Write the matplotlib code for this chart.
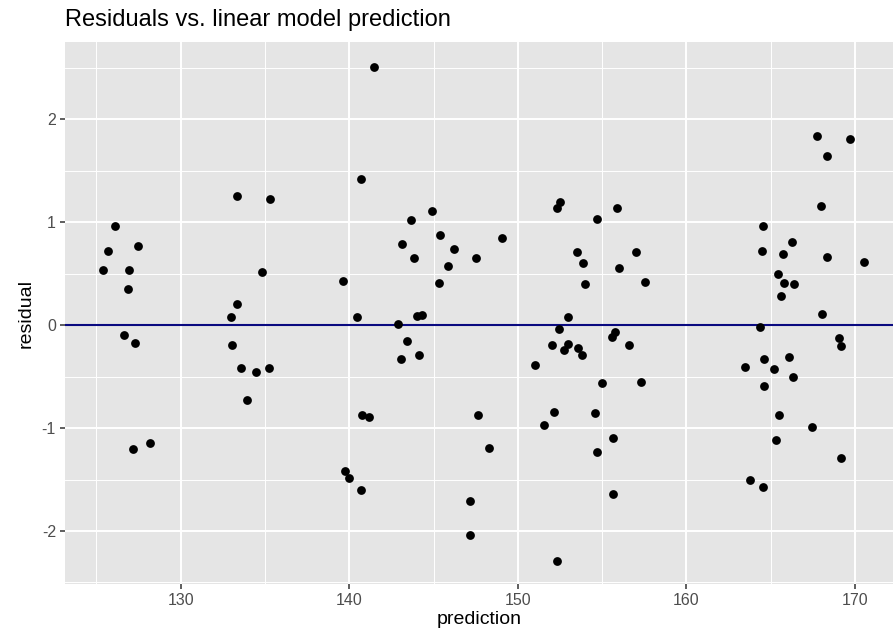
import matplotlib.pyplot as plt
from matplotlib.ticker import MultipleLocator

plt.rcParams['font.family'] = ['Liberation Sans', 'DejaVu Sans']
plt.rcParams['axes.unicode_minus'] = False

# values
prediction = [
    133.32, 135.30, 126.12, 125.67, 127.45, 125.37, 126.93, 134.84, 126.89, 133.32,
    133.00, 126.64, 127.27, 133.06, 133.60, 134.47, 135.24, 133.93, 127.15, 128.16,
    141.47, 140.68, 144.89, 143.68, 145.40, 143.13, 146.23, 143.86, 147.50, 145.85,
    149.07, 139.61, 145.30, 140.46, 144.02, 144.31, 142.91, 143.42, 143.05, 144.12,
    140.77, 141.15, 147.63, 148.29, 139.76, 139.96, 140.69, 147.14, 147.16, 152.30,
    152.50, 152.34, 155.88, 154.67, 153.50, 153.84, 157.02, 156.00, 153.96, 157.56,
    152.99, 152.44, 155.78, 155.56, 167.76, 169.72, 168.32, 167.96, 164.52, 164.46,
    166.26, 165.74, 168.35, 170.55, 165.41, 165.77, 166.36, 165.63, 168.02, 164.36,
    169.03, 152.00, 152.97, 152.73, 153.58, 153.78, 156.61, 155.00, 157.30, 152.12,
    151.53, 154.59, 155.66, 154.69, 155.66, 151.03, 169.16, 163.45, 164.62, 166.08,
    165.19, 166.33, 164.62, 165.51, 167.42, 165.33, 169.16, 163.79, 164.56,
]
residual = [
    1.255, 1.227, 0.962, 0.715, 0.767, 0.537, 0.531, 0.515, 0.350, 0.207,
    0.081, -0.097, -0.178, -0.194, -0.420, -0.460, -0.420, -0.725, -1.204, -1.142,
    2.512, 1.417, 1.110, 1.022, 0.877, 0.783, 0.744, 0.650, 0.647, 0.570,
    0.845, 0.430, 0.408, 0.075, 0.084, 0.097, 0.013, -0.152, -0.333, -0.291,
    -0.877, -0.890, -0.877, -1.191, -1.414, -1.489, -1.605, -1.712, -2.039, -2.290,
    1.197, 1.139, 1.136, 1.032, 0.709, 0.608, 0.709, 0.550, 0.395, 0.414,
    0.075, -0.039, -0.065, -0.120, 1.838, 1.803, 1.638, 1.159, 0.958, 0.722,
    0.803, 0.686, 0.663, 0.615, 0.492, 0.405, 0.395, 0.278, 0.107, -0.022,
    -0.123, -0.191, -0.184, -0.239, -0.220, -0.294, -0.191, -0.560, -0.550, -0.841,
    -0.968, -0.851, -1.097, -1.230, -1.644, -0.392, -0.204, -0.408, -0.327, -0.314,
    -0.427, -0.508, -0.589, -0.874, -0.987, -1.117, -1.291, -1.505, -1.570,
]

fig = plt.figure(figsize=(8.93, 6.37), dpi=100)
ax = fig.add_axes([65 / 893, 1 - 584 / 637, 828 / 893, 542 / 637])

# ggplot grey theme
ax.set_facecolor('#E5E5E5')
for s in ax.spines.values():
    s.set_visible(False)
ax.xaxis.set_major_locator(MultipleLocator(10))
ax.xaxis.set_minor_locator(MultipleLocator(5))
ax.yaxis.set_major_locator(MultipleLocator(1))
ax.yaxis.set_minor_locator(MultipleLocator(0.5))
ax.grid(which='major', color='white', linewidth=1.4)
ax.grid(which='minor', color='white', linewidth=0.7)
ax.set_axisbelow(True)
ax.tick_params(which='major', length=3.5, width=1.1, color='#333333',
               labelcolor='#4D4D4D', labelsize=11.5, pad=3)
ax.tick_params(which='minor', length=0)

ax.scatter(prediction, residual, s=40, color='black', linewidths=0, zorder=3)
ax.axhline(0, color='#0A0A80', linewidth=1.5, zorder=2)

ax.set_xlim(123.14, 172.25)
ax.set_ylim(-2.515, 2.75)
ax.set_yticks([-2, -1, 0, 1, 2])
ax.set_xticks([130, 140, 150, 160, 170])

ax.set_xlabel('prediction', fontsize=14, labelpad=2)
ax.set_ylabel('residual', fontsize=14, labelpad=5)
fig.text(65 / 893, 1 - 26 / 637, 'Residuals vs. linear model prediction',
         fontsize=17, ha='left', va='baseline')

fig.savefig('out.png', dpi=100)
